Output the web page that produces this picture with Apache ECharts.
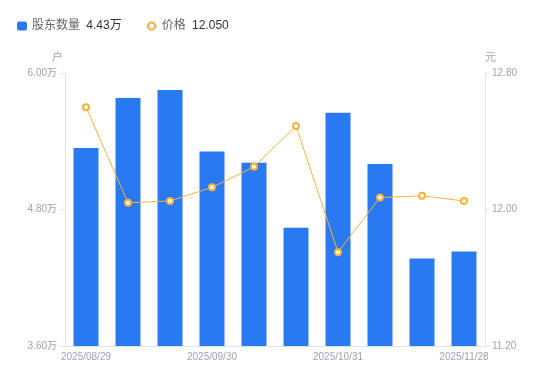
<!DOCTYPE html>
<html><head><meta charset="utf-8">
<script src="https://cdn.jsdelivr.net/npm/echarts@6/dist/echarts.min.js"></script>
<style>html,body{margin:0;padding:0;background:#fff}#c{width:550px;height:381px}</style>
</head><body><div id="c"></div>
<script>
var categories = ['2025/08/29','2025/09/10','2025/09/19','2025/09/30','2025/10/10','2025/10/20','2025/10/31','2025/11/10','2025/11/20','2025/11/28'];
var holders = [5.34, 5.78, 5.85, 5.31, 5.21, 4.64, 5.65, 5.20, 4.37, 4.43];
var prices = [12.60, 12.04, 12.05, 12.13, 12.25, 12.49, 11.75, 12.07, 12.08, 12.05];
var legendValues = {'股东数量': '4.43万', '价格': '12.050'};

var font = 'Liberation Sans, Arial, Noto Sans CJK SC, sans-serif';
var chart = echarts.init(document.getElementById('c'));
chart.setOption({
  animation: false,
  textStyle: {fontFamily: font},
  legend: {
    left: 12, top: 15, itemGap: 24, itemWidth: 10, itemHeight: 9,
    data: [{name: '股东数量', icon: 'roundRect'}, {name: '价格'}],
    formatter: function (n) { return '{n|' + n + '} {v|' + legendValues[n] + '}'; },
    textStyle: {fontFamily: font, rich: {n: {color: '#666', fontSize: 12}, v: {color: '#333', fontSize: 12, padding: [0, 0, 0, 3]}}}
  },
  grid: {left: 65, right: 65, top: 73, bottom: 35},
  xAxis: {
    type: 'category', data: categories,
    axisLine: {lineStyle: {color: '#e3e3e3'}},
    axisTick: {show: false},
    axisLabel: {interval: 2, color: '#a0a2ae', fontSize: 10, margin: 6}
  },
  yAxis: [{
    type: 'value', min: 3.6, max: 6.0, interval: 1.2, name: '户',
    nameGap: 10,
    nameTextStyle: {color: '#a0a2ae', fontSize: 11, align: 'right', padding: [0, 2, 0, 0]},
    axisLine: {show: true, lineStyle: {color: '#e3e3e3'}},
    axisTick: {show: true, length: 5, lineStyle: {color: '#e3e3e3'}},
    splitLine: {show: false},
    axisLabel: {color: '#a0a2ae', fontSize: 10, margin: 8, formatter: function (v) { return v.toFixed(2) + '万'; }}
  }, {
    type: 'value', min: 11.2, max: 12.8, interval: 0.8, name: '元',
    nameGap: 10,
    nameTextStyle: {color: '#a0a2ae', fontSize: 11, align: 'left'},
    axisLine: {show: true, lineStyle: {color: '#e3e3e3'}},
    axisTick: {show: true, length: 5, lineStyle: {color: '#e3e3e3'}},
    splitLine: {show: false},
    axisLabel: {color: '#a0a2ae', fontSize: 10, margin: 7, formatter: function (v) { return v.toFixed(2); }}
  }],
  series: [{
    name: '股东数量', type: 'bar', data: holders, barWidth: 25,
    itemStyle: {color: '#2979f2'}
  }, {
    name: '价格', type: 'line', yAxisIndex: 1, data: prices,
    symbol: 'emptyCircle', symbolSize: 6,
    lineStyle: {color: '#f7b13c', width: 1},
    itemStyle: {color: '#f7b13c', borderWidth: 2}
  }]
});
</script></body></html>
